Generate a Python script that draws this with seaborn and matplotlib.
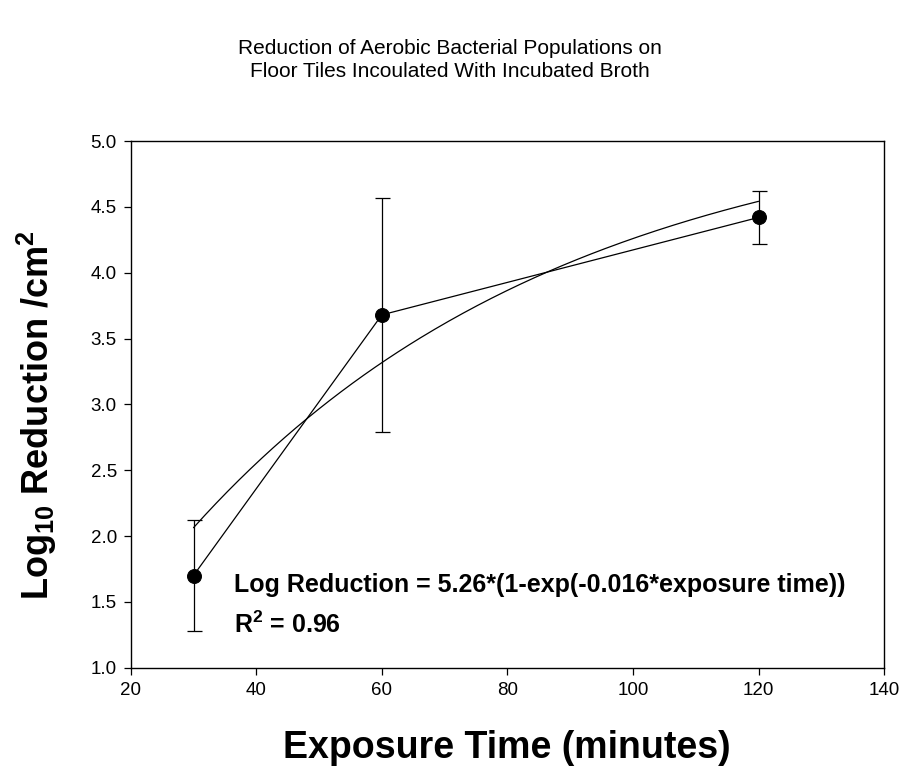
import numpy as np
import pandas as pd
import matplotlib
matplotlib.use('Agg')
import matplotlib.pyplot as plt
import seaborn as sns

sns.set_style('ticks')
plt.rcParams['font.family'] = ['Liberation Sans', 'DejaVu Sans']
plt.rcParams['mathtext.fontset'] = 'custom'
plt.rcParams['mathtext.rm'] = 'Liberation Sans'
plt.rcParams['mathtext.bf'] = 'Liberation Sans:bold'
plt.rcParams['text.color'] = 'black'
plt.rcParams['axes.labelcolor'] = 'black'

# data
exposure_time = [30, 60, 120]
log_reduction = [1.70, 3.68, 4.42]
err_low = [1.28, 2.79, 4.22]
err_high = [2.12, 4.57, 4.62]

# fitted model parameters (Log Reduction = a*(1-exp(-b*t)))
fit_a = 5.26
fit_b = 0.0166

df = pd.DataFrame({'time': exposure_time, 'log_red': log_reduction})
t_fit = np.linspace(30, 120, 200)
fit_df = pd.DataFrame({'time': t_fit, 'log_red': fit_a * (1 - np.exp(-fit_b * t_fit))})

fig = plt.figure(figsize=(9.04, 7.71), dpi=100)
ax = fig.add_axes([0.1446, 0.134, 0.8334, 0.683])

# error bars
yerr = [np.array(log_reduction) - np.array(err_low), np.array(err_high) - np.array(log_reduction)]
ax.errorbar(exposure_time, log_reduction, yerr=yerr, fmt='none', ecolor='black',
            elinewidth=0.9, capsize=5.4, capthick=0.9, zorder=2)

# fit curve
sns.lineplot(data=fit_df, x='time', y='log_red', color='black', linewidth=0.9, ax=ax, zorder=3)
# observed means
sns.lineplot(data=df, x='time', y='log_red', color='black', linewidth=0.9, marker='o',
             markersize=10, markeredgecolor='black', markerfacecolor='black', ax=ax, zorder=4)

ax.set_xlim(20, 140)
ax.set_ylim(1.0, 5.0)
ax.set_xticks([20, 40, 60, 80, 100, 120, 140])
ax.set_yticks(np.arange(1.0, 5.01, 0.5))
ax.set_yticklabels([f'{v:.1f}' for v in np.arange(1.0, 5.01, 0.5)])
ax.tick_params(direction='out', length=5, width=0.9, labelsize=13.5, colors='black', pad=5)
for s in ax.spines.values():
    s.set_visible(True)
    s.set_linewidth(1.0)
    s.set_color('black')
ax.set_xlabel('')
ax.set_ylabel('')

fig.text(507 / 904, 1 - 748 / 771, 'Exposure Time (minutes)', fontsize=27, fontweight='bold',
         ha='center', va='center')
fig.text(37 / 904, 1 - 415 / 771, r'Log$_{\mathbf{10}}$ Reduction /cm$^{\mathbf{2}}$', fontsize=26,
         fontweight='bold', rotation=90, ha='center', va='center')

ax.text(36.46, 1.575, 'Log Reduction = 5.26*(1-exp(-0.016*exposure time))', fontsize=18,
        fontweight='bold', va='baseline', ha='left')
ax.text(36.46, 1.264, r'R$^{\mathbf{2}}$ = 0.96', fontsize=18, fontweight='bold',
        va='baseline', ha='left')

fig.text(450 / 904, 1 - 60 / 771, 'Reduction of Aerobic Bacterial Populations on\nFloor Tiles Incoulated With Incubated Broth',
         ha='center', va='center', fontsize=15, linespacing=1.25)

fig.savefig('out.png', dpi=100)
